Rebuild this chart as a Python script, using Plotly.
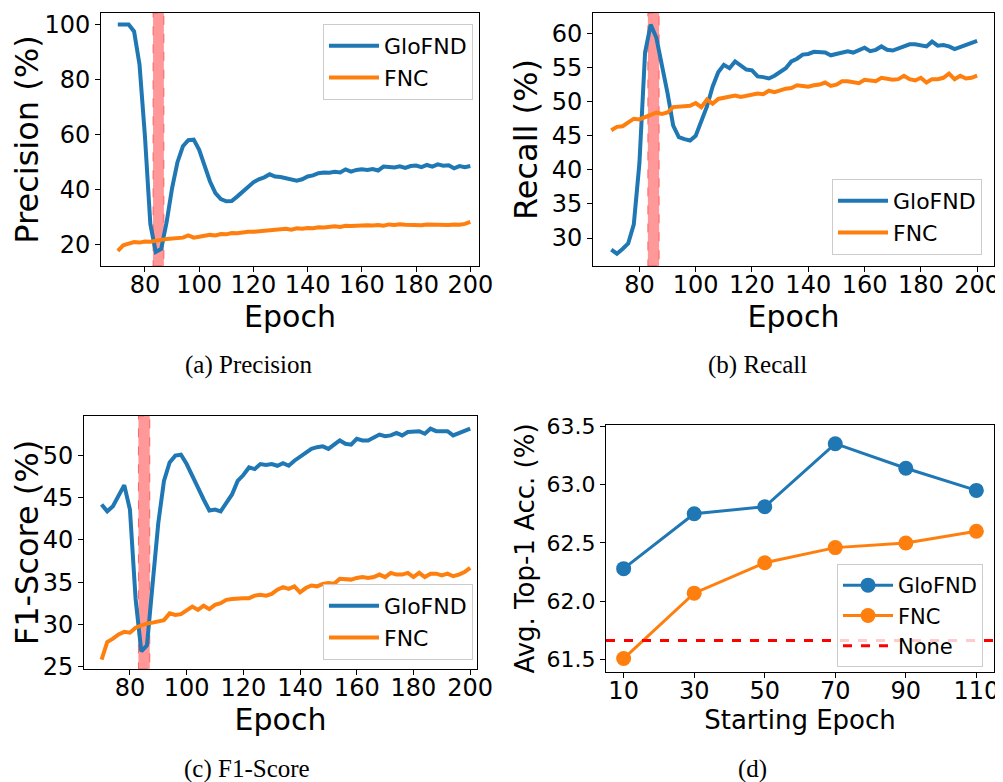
import plotly.graph_objects as go

# ---------------- data ----------------
epochs = list(range(70, 201, 2))

precision_glofnd = [100, 100, 100, 97.5, 85.5, 59.5, 27.5, 17.4, 18.5, 28.2,
                    40.5, 50.0, 55.8, 58.0, 58.2, 54.5, 48.5, 43.0, 38.8, 36.6,
                    35.8, 35.9, 37.5, 39.4, 41.3, 42.7, 43.8, 44.5, 45.6, 44.8,
                    44.6, 44.1, 43.6, 43.3, 43.8, 44.8, 45.2, 46.0, 46.3, 46.2,
                    46.5, 46.3, 47.4, 46.6, 47.2, 47.4, 47.2, 47.5, 47.0, 48.4,
                    48.3, 48.1, 48.5, 47.9, 48.6, 48.8, 48.2, 49.0, 48.4, 49.2,
                    48.7, 48.9, 47.8, 48.6, 48.2, 48.6]
precision_fnc = [17.8, 19.8, 20.4, 21.0, 20.8, 21.2, 21.1, 21.6, 21.8, 22.1,
                 22.2, 22.4, 22.6, 23.4, 22.6, 22.9, 23.3, 23.6, 23.4, 23.9,
                 23.8, 24.3, 24.2, 24.6, 24.7, 24.7, 24.9, 25.2, 25.4, 25.3,
                 25.6, 25.8, 25.5, 26.0, 25.8, 26.1, 26.0, 26.4, 26.3, 26.6,
                 26.7, 26.5, 26.9, 26.8, 27.0, 26.9, 27.1, 27.0, 27.2, 26.9,
                 27.4, 27.2, 27.5, 27.3, 27.2, 27.4, 27.1, 27.4, 27.3, 27.1,
                 27.3, 27.2, 27.4, 27.3, 27.6, 28.3]

recall_glofnd = [28.3, 27.7, 28.4, 29.2, 32.0, 41.0, 57.2, 61.3, 59.4, 55.5,
                 51.2, 46.5, 44.8, 44.5, 44.3, 45.0, 47.0, 49.3, 52.2, 54.3,
                 55.4, 54.9, 55.9, 55.3, 54.7, 54.6, 53.7, 53.6, 53.4, 53.8,
                 54.3, 54.9, 55.9, 56.3, 56.9, 57.0, 57.3, 57.2, 57.2, 56.8,
                 57.0, 57.1, 57.4, 57.2, 57.5, 57.9, 57.4, 57.6, 58.1, 57.6,
                 57.5, 57.8, 58.2, 58.4, 58.4, 58.2, 58.1, 58.8, 58.2, 58.3,
                 58.1, 57.7, 58.0, 58.3, 58.6, 58.9]
recall_fnc = [45.8, 46.3, 46.4, 47.0, 47.5, 47.4, 47.7, 48.0, 48.4, 48.2,
              48.4, 49.2, 49.3, 49.3, 49.4, 49.8, 49.2, 50.3, 49.7, 50.4,
              50.6, 50.7, 50.9, 50.7, 50.9, 51.1, 51.2, 51.1, 51.6, 51.4,
              51.7, 51.9, 52.0, 52.4, 52.3, 52.2, 52.4, 52.5, 52.8, 52.3,
              52.5, 53.0, 53.0, 52.9, 52.7, 53.2, 53.1, 53.0, 53.5, 53.3,
              53.2, 53.3, 53.8, 53.3, 53.1, 53.5, 52.8, 53.3, 53.3, 53.5,
              54.1, 53.3, 53.8, 53.4, 53.5, 53.8]

f1_glofnd = [44.2, 43.4, 44.0, 45.2, 46.5, 43.6, 33.0, 26.8, 27.5, 34.8,
             42.0, 47.0, 49.2, 50.0, 50.1, 49.0, 47.7, 46.2, 44.8, 43.5,
             43.6, 43.4, 44.4, 45.4, 47.0, 47.7, 48.6, 48.4, 49.0, 48.9,
             49.0, 48.8, 49.1, 48.8, 49.4, 49.9, 50.4, 50.8, 51.0, 51.1,
             50.8, 51.3, 51.8, 51.4, 51.3, 52.0, 51.8, 51.8, 52.1, 52.5,
             52.3, 52.4, 52.7, 52.4, 52.8, 52.8, 52.9, 52.6, 53.2, 52.9,
             52.9, 52.9, 52.4, 52.7, 53.0, 53.2]
f1_fnc = [25.8, 27.9, 28.3, 28.8, 29.1, 29.0, 29.6, 29.9, 30.1, 30.2,
          30.3, 30.5, 31.3, 31.1, 31.2, 31.6, 32.1, 31.7, 32.2, 31.8,
          32.3, 32.5, 32.9, 33.0, 33.1, 33.1, 33.1, 33.4, 33.5, 33.4,
          33.6, 34.1, 34.4, 34.2, 34.5, 33.8, 34.3, 34.6, 34.5, 34.8,
          34.9, 34.8, 35.4, 35.4, 35.3, 35.5, 35.6, 35.5, 35.6, 35.9,
          35.6, 36.1, 35.9, 35.9, 36.1, 35.6, 36.1, 35.6, 36.0, 36.0,
          35.8, 36.0, 35.7, 35.9, 36.2, 36.7]

span_start, span_end = 83, 87

start_epochs = [10, 30, 50, 70, 90, 110]
acc_glofnd = [62.28, 62.75, 62.81, 63.35, 63.14, 62.95]
acc_fnc = [61.51, 62.07, 62.33, 62.46, 62.50, 62.60]
acc_none = 61.665

series_names = ["GloFND", "FNC"]
captions = ["(a) Precision", "(b) Recall", "(c) F1-Score", "(d)"]

# ---------------- style ----------------
BLUE = "#1f77b4"
ORANGE = "#ff7f0e"
OFF = 8                      # default page body margin
W, H = 1003 - OFF, 782 - OFF  # figure size so that it fills the visible window
FONT = "DejaVu Sans"

def fx(px):
    return (px - OFF) / W

def fy(py):
    return 1 - (py - OFF) / H

def dom_x(a, b):
    return [fx(a), fx(b)]

def dom_y(top, bottom):
    return [fy(bottom), fy(top)]

fig = go.Figure()

panels = [
    ("x", "y", "legend", precision_glofnd, precision_fnc),
    ("x2", "y2", "legend2", recall_glofnd, recall_fnc),
    ("x3", "y3", "legend3", f1_glofnd, f1_fnc),
]
for xa, ya, lg, g, f in panels:
    fig.add_trace(go.Scatter(x=epochs, y=g, mode="lines", name=series_names[0],
                             line=dict(color=BLUE, width=4), xaxis=xa, yaxis=ya, legend=lg))
    fig.add_trace(go.Scatter(x=epochs, y=f, mode="lines", name=series_names[1],
                             line=dict(color=ORANGE, width=4), xaxis=xa, yaxis=ya, legend=lg))
    fig.add_shape(type="rect", xref=xa, yref=f"{ya} domain", x0=span_start, x1=span_end,
                  y0=0, y1=1, fillcolor="rgba(255,0,0,0.4)",
                  line=dict(color="rgba(255,60,60,0.7)", width=1, dash="dash"), layer="below")

fig.add_trace(go.Scatter(x=start_epochs, y=acc_glofnd, mode="lines+markers", name=series_names[0],
                         line=dict(color=BLUE, width=3), marker=dict(size=15, color=BLUE),
                         xaxis="x4", yaxis="y4", legend="legend4"))
fig.add_trace(go.Scatter(x=start_epochs, y=acc_fnc, mode="lines+markers", name=series_names[1],
                         line=dict(color=ORANGE, width=3), marker=dict(size=15, color=ORANGE),
                         xaxis="x4", yaxis="y4", legend="legend4"))
fig.add_shape(type="line", xref="x4 domain", yref="y4", x0=0, x1=1, y0=acc_none, y1=acc_none,
              line=dict(color="red", width=3, dash="dash"), showlegend=True, name="None",
              legend="legend4", legendrank=2000)

axis_common = dict(showline=True, linecolor="black", linewidth=1, mirror=True,
                   ticks="outside", ticklen=5, tickcolor="black", showgrid=False,
                   zeroline=False, automargin=False,
                   tickfont=dict(family=FONT, size=24, color="black"))

# panel geometry (window pixels): left, right, top, bottom
geo = {
    1: (101, 479, 13, 266),
    2: (593, 994, 13, 266),
    3: (84, 477, 416, 669),
    4: (606, 994, 425, 672),
}
xranges = {1: [63.8, 203.2], 2: [63.5, 206.0], 3: [63.8, 202.4]}
yranges = {1: [12.3, 104.2], 2: [25.9, 63.0], 3: [24.7, 54.7]}
ytitles = {1: "Precision (%)", 2: "Recall (%)", 3: "F1-Score (%)"}
ytickvals = {1: [20, 40, 60, 80, 100], 2: [30, 35, 40, 45, 50, 55, 60], 3: [25, 30, 35, 40, 45, 50]}

layout = {}
for i in (1, 2, 3):
    l, r, t, b = geo[i]
    sx = "" if i == 1 else str(i)
    layout[f"xaxis{sx}"] = dict(axis_common, domain=dom_x(l, r), range=xranges[i],
                                anchor=f"y{sx}", tickvals=[80, 100, 120, 140, 160, 180, 200],
                                ticklabelstandoff=-8,
                                title=dict(text="Epoch", font=dict(family=FONT, size=30, color="black"),
                                           standoff=2))
    layout[f"yaxis{sx}"] = dict(axis_common, domain=dom_y(t, b), range=yranges[i],
                                anchor=f"x{sx}", tickvals=ytickvals[i],
                                title=dict(text=ytitles[i], font=dict(family=FONT, size=32, color="black"),
                                           standoff=4))
l, r, t, b = geo[4]
layout["xaxis4"] = dict(axis_common, domain=dom_x(l, r), range=[5, 115], anchor="y4",
                        tickvals=start_epochs, ticklabelstandoff=-8,
                        title=dict(text="Starting Epoch", font=dict(family=FONT, size=26, color="black"),
                                   standoff=2))
layout["yaxis4"] = dict(axis_common, domain=dom_y(t, b), range=[61.395, 63.51], anchor="x4",
                        tickvals=[61.5, 62.0, 62.5, 63.0, 63.5], tickformat=".1f",
                        title=dict(text="Avg. Top-1 Acc. (%)", font=dict(family=FONT, size=26, color="black"),
                                   standoff=4))
layout["xaxis4"]["tickfont"] = dict(family=FONT, size=24, color="black")
layout["yaxis4"]["tickfont"] = dict(family=FONT, size=22, color="black")

legend_common = dict(bgcolor="rgba(255,255,255,0.8)", bordercolor="#cccccc", borderwidth=1,
                     xanchor="right", yanchor="top", itemwidth=50,
                     font=dict(family=FONT, size=22, color="black"), tracegroupgap=0)
layout["legend"] = dict(legend_common, x=fx(473), y=fy(24))
layout["legend2"] = dict(legend_common, x=fx(982), y=fy(179))
layout["legend3"] = dict(legend_common, x=fx(473), y=fy(584))
layout["legend4"] = dict(legend_common, x=fx(983), y=fy(564),
                         font=dict(family=FONT, size=21, color="black"))

annotations = []
cap_pos = [(249, 365), (757, 365), (247, 769), (752, 769)]
for text, (cx, cy) in zip(captions, cap_pos):
    annotations.append(dict(text=text, xref="paper", yref="paper", x=fx(cx), y=fy(cy),
                            xanchor="center", yanchor="middle", showarrow=False,
                            font=dict(family="Liberation Serif", size=25, color="black")))

fig.update_layout(width=W, height=H, margin=dict(l=0, r=0, t=0, b=0),
                  plot_bgcolor="white", paper_bgcolor="white",
                  annotations=annotations, **layout)

fig.write_html("out.html")
